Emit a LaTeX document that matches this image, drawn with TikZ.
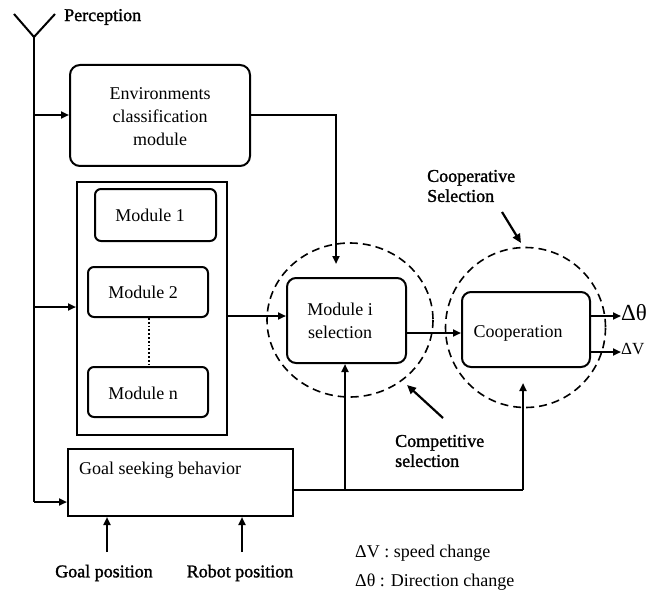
\documentclass[tikz,border=0pt]{standalone}
\usepackage{fontspec}
\setmainfont{Liberation Serif}
\newfontfamily\heavyfont[FakeBold=1.5]{Liberation Serif}
\usetikzlibrary{arrows.meta,calc}

\tikzset{
  txt/.style={font=\fontsize{18}{23}\selectfont, inner sep=0pt, align=center},
  heavy/.style={font=\fontsize{18}{20}\heavyfont, inner sep=0pt, align=left},
  rbox/.style={draw, line width=2pt, rounded corners=10pt, inner sep=0pt},
  sbox/.style={draw, line width=2pt, inner sep=0pt},
  ring/.style={draw, line width=1.6pt, dash pattern=on 8pt off 5pt},
  wire/.style={line width=2pt},
  arr/.style={wire, -{Triangle[length=8pt,width=7pt]}},
  pointer/.style={line width=2.2pt, -{Triangle[length=9pt,width=8pt]}},
}

\begin{document}
\begin{tikzpicture}[x=1pt,y=-1pt]
\useasboundingbox (0,0) rectangle (663,596);

% antenna and perception trunk
\coordinate (ant) at (34,37);
\coordinate (armL) at (14,14);
\coordinate (armR) at (55,14);
\coordinate (trunkEnd) at (34,502);
\node[heavy, anchor=west] (perc) at (64,17) {Perception};
\draw[wire] (armL) -- (ant) -- (armR);
\draw[wire] (ant) -- (trunkEnd);

% blocks
\node[rbox, minimum width=180pt, minimum height=101pt] (env) at (160,115.5) {};
\node[txt] at (160,117) {Environments\\classification\\module};

\node[sbox, minimum width=150pt, minimum height=253pt] (cont) at (152,308.5) {};
\node[rbox, rounded corners=6pt, minimum width=121pt, minimum height=52pt] (m1) at (155.5,215) {};
\node[txt] at (150,215) {Module 1};
\node[rbox, rounded corners=6pt, minimum width=120pt, minimum height=50pt] (m2) at (148,292) {};
\node[txt] at (143,292) {Module 2};
\node[rbox, rounded corners=6pt, minimum width=120pt, minimum height=50pt] (mn) at (148,392) {};
\node[txt] at (143,393) {Module n};
\draw[line width=1.8pt, dotted] (m2.south -| 149,0) -- (mn.north -| 149,0);

\node[rbox, rounded corners=9pt, minimum width=119pt, minimum height=85pt] (msel) at (346.5,320.5) {};
\node[txt] at (340,321) {Module i\\selection};
\node[rbox, rounded corners=9pt, minimum width=128pt, minimum height=75pt] (coop) at (526,329.5) {};
\node[txt] at (518,333) {Cooperation};

\node[sbox, minimum width=225pt, minimum height=67pt] (goal) at (180.5,482.5) {};
\node[txt, anchor=west] at (79,470) {Goal seeking behavior};

% dashed selection rings
\draw[ring] (350,320) ellipse [x radius=83, y radius=77];
\draw[ring] (525.5,327.5) ellipse [x radius=80, y radius=80];

% inputs from the trunk
\draw[arr] (34,115) -- (env.west |- 0,115);
\draw[arr] (34,307) -- (cont.west |- 0,307);
\draw[arr] (trunkEnd) -- (goal.west |- 0,502);

% environment classification to module selection
\coordinate (envTurn) at (336,115);
\draw[arr] (env.east |- 0,115) -- (envTurn) -- (336,264);

% module bank to module selection, selection to cooperation
\draw[arr] (cont.east |- 0,316) -- (msel.west |- 0,316);
\draw[arr] (msel.east |- 0,333) -- (coop.west |- 0,333);

% outputs
\node[font=\fontsize{23}{24}\selectfont, inner sep=0pt, anchor=west] (dth) at (621,313) {Δθ};
\node[font=\fontsize{17}{20}\selectfont, inner sep=0pt, anchor=west] (dv) at (621,349) {ΔV};
\draw[arr] (coop.east |- 0,316) -- (dth.west |- 0,316);
\draw[arr] (coop.east |- 0,352) -- (dv.west |- 0,352);

% goal seeking feedback
\coordinate (split) at (345,490);
\coordinate (corner) at (523,490);
\draw[wire] (goal.east |- 0,490) -- (corner);
\draw[arr] (corner) -- (523,383);
\draw[arr] (split) -- (msel.south -| 345,0);

% goal and robot position inputs
\node[heavy, anchor=center] (gpos) at (104,573) {Goal position};
\node[heavy, anchor=center] (rpos) at (240,573) {Robot position};
\draw[arr] (107,552) -- (goal.south -| 107,0);
\draw[arr] (242,552) -- (goal.south -| 242,0);

% selection labels
\node[heavy, anchor=west] (coopLbl) at (427,186) {Cooperative\\Selection};
\draw[pointer] (502,212) -- (521,243);
\node[heavy, anchor=west] (compLbl) at (395,451) {Competitive\\selection};
\draw[pointer] (443,418) -- (407,385);

% legend
\node[txt, anchor=west, align=left, font=\fontsize{18}{29}\selectfont] (legend) at (355,568)
  {ΔV : speed change\\Δθ : Direction change};
\end{tikzpicture}
\end{document}
